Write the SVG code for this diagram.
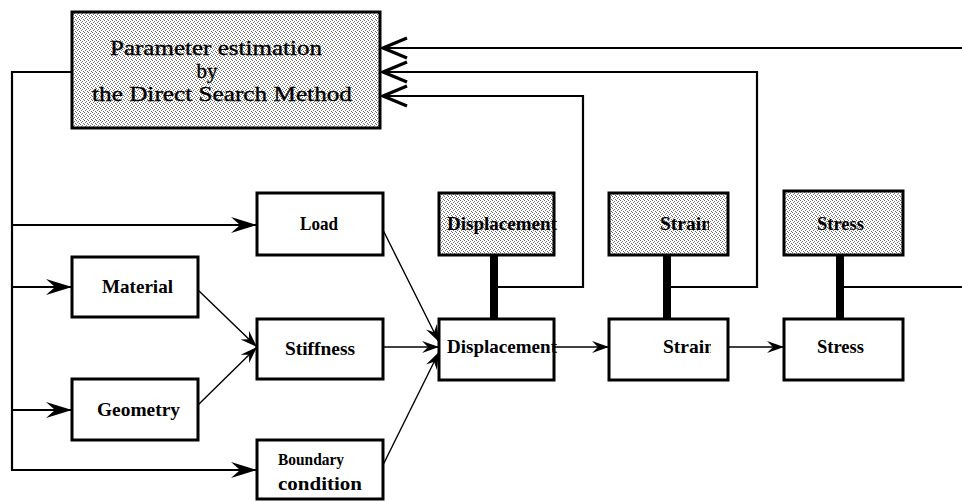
<svg xmlns="http://www.w3.org/2000/svg" width="962" height="501" viewBox="0 0 962 501">
  <defs>
    <!-- light dithered grey used for the estimation block and measured quantities -->
    <pattern id="stipple" patternUnits="userSpaceOnUse" x="0" y="0" width="4" height="4">
      <rect width="4" height="4" fill="#ffffff"/>
      <rect x="0" y="0" width="1" height="1" fill="#666"/>
      <rect x="2" y="1" width="1" height="1" fill="#777"/>
      <rect x="1" y="2" width="1" height="1" fill="#777"/>
      <rect x="3" y="3" width="1" height="1" fill="#666"/>
    </pattern>
    <!-- barbed solid arrowheads -->
    <marker id="headL" markerUnits="userSpaceOnUse" markerWidth="30" markerHeight="20" refX="0" refY="0" orient="auto" overflow="visible">
      <path d="M0,0 L-26,-8 L-17,0 L-26,8 Z" fill="#000"/>
    </marker>
    <marker id="headM" markerUnits="userSpaceOnUse" markerWidth="24" markerHeight="16" refX="0" refY="0" orient="auto" overflow="visible">
      <path d="M0,0 L-17,-6 L-11,0 L-17,6 Z" fill="#000"/>
    </marker>
    <!-- open chevron heads on the feedback lines -->
    <marker id="headOpen" markerUnits="userSpaceOnUse" markerWidth="30" markerHeight="24" refX="0" refY="0" orient="auto" overflow="visible">
      <path d="M-24,-10 L0,0 L-24,10" fill="none" stroke="#000" stroke-width="3.2"/>
    </marker>
    <clipPath id="clipStrainTop"><rect x="609" y="193" width="100" height="62"/></clipPath>
    <clipPath id="clipStrainBot"><rect x="609" y="319" width="102" height="61"/></clipPath>
  </defs>
  <style>
    .box { fill: #ffffff; stroke: #000; stroke-width: 3; }
    .shade { fill: url(#stipple); stroke: #000; stroke-width: 3; }
    .lbl { font-family: "Liberation Serif", "Times New Roman", serif; font-weight: bold; font-size: 19px; fill: #000; }
    .small { font-size: 17px; }
    .title { font-family: "Liberation Serif", "Times New Roman", serif; font-size: 21px; fill: #000; stroke: #000; stroke-width: 0.35; text-anchor: middle; }
    .wire { fill: none; stroke: #000; stroke-width: 2.2; }
    .thin { fill: none; stroke: #000; stroke-width: 1.4; }
    .bar { stroke: #000; stroke-width: 8; }
  </style>

  <rect width="962" height="501" fill="#ffffff"/>

  <g id="connectors">
    <!-- distribution trunk from the estimation block -->
    <path class="wire" d="M72,72 H12 V471" stroke-width="2.5"/>
    <path class="wire" d="M12,225 H257" marker-end="url(#headL)"/>
    <path class="wire" d="M12,287 H72" marker-end="url(#headL)"/>
    <path class="wire" d="M12,410 H72" marker-end="url(#headL)"/>
    <path class="wire" d="M12,470 H257" marker-end="url(#headL)"/>
    <!-- model assembly -->
    <path class="thin" d="M198,290 L257,347" marker-end="url(#headM)"/>
    <path class="thin" d="M198,405 L257,347" marker-end="url(#headM)"/>
    <path class="thin" d="M383,230 L439,342" marker-end="url(#headM)"/>
    <path class="thin" d="M383,347 H439" marker-end="url(#headM)"/>
    <path class="thin" d="M383,465 L439,352" marker-end="url(#headM)"/>
    <path class="thin" d="M554,347 H609" marker-end="url(#headM)"/>
    <path class="thin" d="M728,347 H784" marker-end="url(#headM)"/>
    <!-- comparison links between computed and measured values -->
    <path class="bar" d="M494,255 V319"/>
    <path class="bar" d="M667,255 V319"/>
    <path class="bar" d="M840,255 V319"/>
    <!-- feedback to the estimation block -->
    <path class="wire" d="M494,287 H583 V96 H383" marker-end="url(#headOpen)"/>
    <path class="wire" d="M667,287 H757 V72 H383" marker-end="url(#headOpen)"/>
    <path class="wire" d="M840,287 H962"/>
    <path class="wire" d="M962,48 H383" marker-end="url(#headOpen)"/>
  </g>

  <g id="estimation">
    <rect class="shade" x="72" y="12" width="308" height="116"/>
    <text class="title" x="216" y="55" textLength="212" lengthAdjust="spacingAndGlyphs">Parameter estimation</text>
    <text class="title" x="207" y="78">by</text>
    <text class="title" x="222" y="101" textLength="260" lengthAdjust="spacingAndGlyphs">the Direct Search Method</text>
  </g>

  <g id="load">
    <rect class="box" x="257" y="193" width="126" height="62"/>
    <text class="lbl" x="300" y="230" font-size="18" textLength="38" lengthAdjust="spacingAndGlyphs">Load</text>
  </g>
  <g id="material">
    <rect class="box" x="72" y="257" width="126" height="60"/>
    <text class="lbl" x="102" y="293" textLength="71" lengthAdjust="spacingAndGlyphs">Material</text>
  </g>
  <g id="stiffness">
    <rect class="box" x="257" y="319" width="126" height="60"/>
    <text class="lbl" x="285" y="355" textLength="70" lengthAdjust="spacingAndGlyphs">Stiffness</text>
  </g>
  <g id="geometry">
    <rect class="box" x="72" y="379" width="126" height="61"/>
    <text class="lbl" x="97" y="416" textLength="83" lengthAdjust="spacingAndGlyphs">Geometry</text>
  </g>
  <g id="boundary">
    <rect class="box" x="257" y="440" width="126" height="59"/>
    <text class="lbl small" x="278" y="465" textLength="66" lengthAdjust="spacingAndGlyphs">Boundary</text>
    <text class="lbl" x="278" y="490" font-size="17" textLength="84" lengthAdjust="spacingAndGlyphs">condition</text>
  </g>

  <g id="displacement-measured">
    <rect class="shade" x="439" y="193" width="115" height="62"/>
    <text class="lbl" x="447" y="230" textLength="110" lengthAdjust="spacingAndGlyphs">Displacement</text>
  </g>
  <g id="strain-measured">
    <rect class="shade" x="609" y="193" width="119" height="62"/>
    <text class="lbl" x="660" y="230" textLength="52" lengthAdjust="spacingAndGlyphs" clip-path="url(#clipStrainTop)">Strain</text>
  </g>
  <g id="stress-measured">
    <rect class="shade" x="784" y="191" width="119" height="64"/>
    <text class="lbl" x="817" y="230" textLength="47" lengthAdjust="spacingAndGlyphs">Stress</text>
  </g>

  <g id="displacement">
    <rect class="box" x="439" y="319" width="115" height="61"/>
    <text class="lbl" x="447" y="353" textLength="110" lengthAdjust="spacingAndGlyphs">Displacement</text>
  </g>
  <g id="strain">
    <rect class="box" x="609" y="319" width="119" height="61"/>
    <text class="lbl" x="663" y="353" textLength="52" lengthAdjust="spacingAndGlyphs" clip-path="url(#clipStrainBot)">Strain</text>
  </g>
  <g id="stress">
    <rect class="box" x="784" y="319" width="119" height="61"/>
    <text class="lbl" x="817" y="353" textLength="47" lengthAdjust="spacingAndGlyphs">Stress</text>
  </g>
</svg>
